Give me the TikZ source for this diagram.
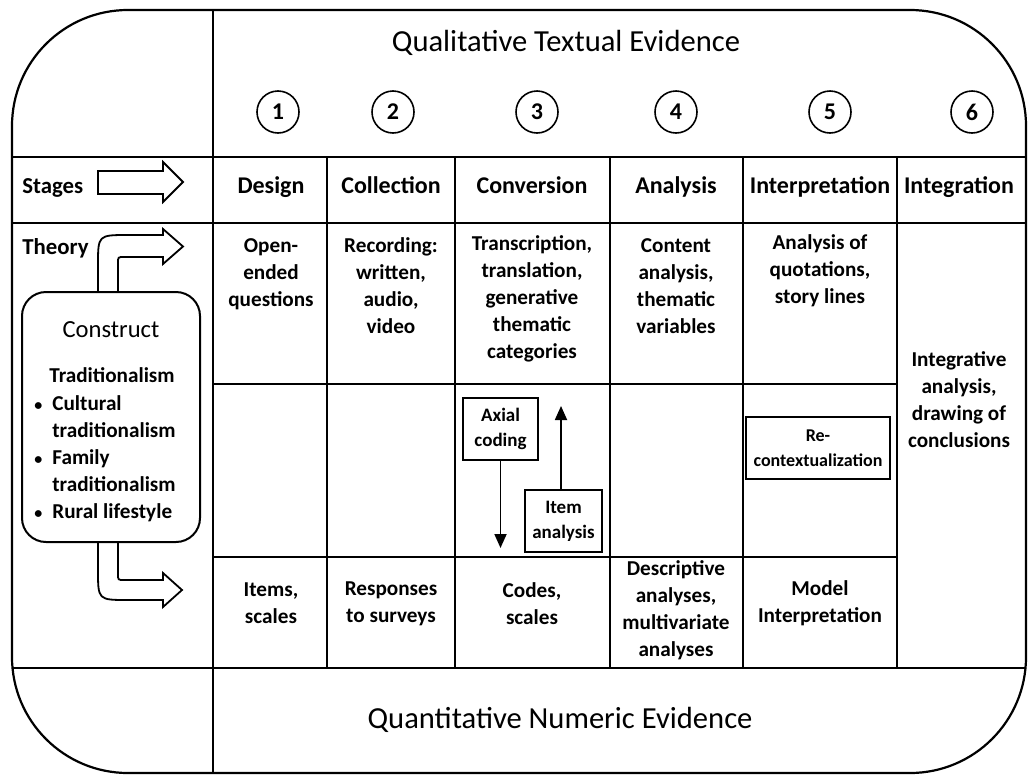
\documentclass[tikz,border=0pt]{standalone}
\usepackage{fontspec}
\setmainfont{Carlito}
\usetikzlibrary{arrows.meta,positioning}

\begin{document}
\begin{tikzpicture}[
    x=0.5pt, y=-0.5pt,
    cell/.style={align=center, inner sep=0pt, font=\bfseries\fontsize{10.6}{13.5}\selectfont},
    head/.style={anchor=base, inner sep=0pt, font=\bfseries\fontsize{12}{15}\selectfont},
    side/.style={anchor=base west, inner sep=0pt, font=\bfseries\fontsize{11.4}{14}\selectfont},
    smallbox/.style={draw, line width=0.9pt, align=center, inner sep=1pt, minimum height=31pt, font=\bfseries\fontsize{9.5}{12.5}\selectfont},
    num/.style={circle, draw, line width=0.8pt, minimum size=21pt, inner sep=0pt, font=\bfseries\fontsize{12}{14}\selectfont},
    title/.style={inner sep=0pt, font=\fontsize{15.3}{18}\selectfont},
    grid/.style={line width=1pt},
    hollow/.style={draw, line width=0.9pt, fill=white},
    edge/.style={-{Triangle[length=7pt,width=6pt]}, line width=0.9pt}
]
    \useasboundingbox (0,0) rectangle (1028,777);

    \draw[line width=1.1pt, rounded corners=58pt] (12,10) rectangle (1026,773);
    \draw[grid] (213,10) -- (213,773);
    \foreach \y in {157,223,668}
        \draw[grid] (12,\y) -- (1026,\y);
    \foreach \y in {384,557}
        \draw[grid] (213,\y) -- (897,\y);
    \foreach \x in {327,455,610,743,897}
        \draw[grid] (\x,157) -- (\x,668);

    \node[title] (qualtitle) at (566,43) {Qualitative Textual Evidence};
    \node[title] (quanttitle) at (560,720) {Quantitative Numeric Evidence};

    \foreach \i/\x in {1/278,2/393,3/537,4/676,5/830,6/972}
        \node[num] (n\i) at (\x,112) {\i};

    \node[side] (stages) at (22,193) {Stages};
    \draw[hollow] (98,171) -- (163,171) -- (163,162) -- (183,182) -- (163,202) -- (163,194)
        -- (98,194) -- cycle;
    \node[side] (theory) at (22,254) {Theory};

    \node[head] (design) at (271,193) {Design};
    \node[head] (collection) at (391,193) {Collection};
    \node[head] (conversion) at (532,193) {Conversion};
    \node[head] (analysis) at (676,193) {Analysis};
    \node[head] (interpretation) at (820,193) {Interpretation};
    \node[head] (integration) at (959,193) {Integration};

    \node[cell] (openq) at (271,274) {Open-\\ended\\questions};
    \node[cell] (recording) at (391,286) {Recording:\\written,\\audio,\\video};
    \node[cell] (transcription) at (532,299) {Transcription,\\translation,\\generative\\thematic\\categories};
    \node[cell] (content) at (676,286) {Content\\analysis,\\thematic\\variables};
    \node[cell] (quotations) at (820,271) {Analysis of\\quotations,\\story lines};
    \node[cell] (integrative) at (959,400) {Integrative\\analysis,\\drawing of\\conclusions};

    \node[smallbox, minimum width=37.5pt] (axial) at (500.5,429) {Axial\\coding};
    \node[smallbox, minimum width=38.5pt] (item) at (563.5,521) {Item\\analysis};
    \coordinate (axialend) at (500.5,548);
    \coordinate (itemend) at (561,406);
    \draw[edge] (axial.south) -- (axialend);
    \draw[edge] (item.north -| itemend) -- (itemend);
    \node[smallbox, minimum width=72pt, font=\bfseries\fontsize{9}{12.5}\selectfont] (recontext) at (818,448) {Re-\\contextualization};

    \node[cell] (items) at (271,603) {Items,\\scales};
    \node[cell] (responses) at (391,604) {Responses\\to surveys};
    \node[cell] (codes) at (532,604) {Codes,\\scales};
    \node[cell] (descriptive) at (676,610) {Descriptive\\analyses,\\multivariate\\analyses};
    \node[cell] (model) at (820,603) {Model\\Interpretation};

    \draw[hollow] (98,292) -- (98,265) .. controls (98,235) .. (128,235) -- (163,235) -- (163,229)
        -- (183,246.5) -- (163,264) -- (163,257) -- (124,257) .. controls (118,257) .. (118,263)
        -- (118,292) -- cycle;
    \draw[hollow] (98,542) -- (98,570) .. controls (98,600) .. (128,600) -- (163,600) -- (163,607)
        -- (182,590) -- (163,573) -- (163,580) -- (124,580) .. controls (118,580) .. (118,574)
        -- (118,542) -- cycle;

    \node[draw, line width=1pt, fill=white, rounded corners=12pt, minimum width=89pt,
          minimum height=125pt] (construct) at (111,417) {};
    \node[inner sep=0pt, font=\fontsize{12.3}{14}\selectfont] (constructlbl) at (111,330) {Construct};
    \node[cell] (tradition) at (112,375) {Traditionalism};
    \node[cell, anchor=north west, align=left] (facets) at (34,391) {%
        \begin{tabular}{@{}l@{\hspace{5pt}}l@{}}
        {\fontsize{8}{8}\selectfont\textbullet} & Cultural\\
                    & traditionalism\\
        {\fontsize{8}{8}\selectfont\textbullet} & Family\\
                    & traditionalism\\
        {\fontsize{8}{8}\selectfont\textbullet} & Rural lifestyle
        \end{tabular}};
\end{tikzpicture}
\end{document}
